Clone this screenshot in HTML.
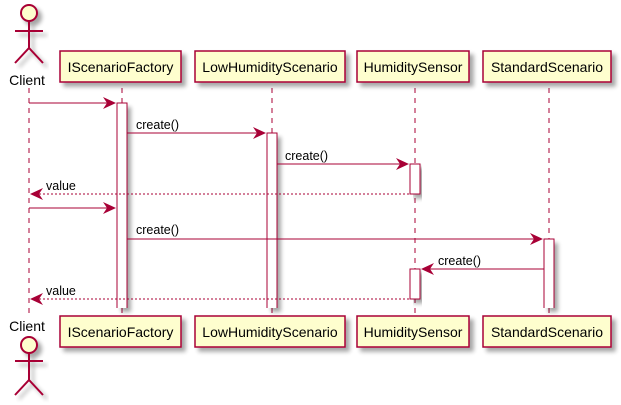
<!DOCTYPE html>
<html><head><meta charset="utf-8"><style>body{margin:0;background:#fff}svg{display:block}text{font-family:"Liberation Sans",sans-serif;fill:#000}</style></head><body>
<svg width="621" height="405" viewBox="0 0 621 405" xmlns="http://www.w3.org/2000/svg">
<defs><filter id="sh" x="-10%" y="-10%" width="130%" height="140%"><feGaussianBlur in="SourceAlpha" stdDeviation="2"/><feOffset dx="4" dy="4"/><feComponentTransfer><feFuncA type="linear" slope="0.35"/></feComponentTransfer><feMerge><feMergeNode/><feMergeNode in="SourceGraphic"/></feMerge></filter></defs>
<g stroke="#A80036" stroke-width="1" stroke-dasharray="5,5">
<line x1="29" y1="88" x2="29" y2="316"/><line x1="122" y1="88" x2="122" y2="316"/><line x1="272" y1="88" x2="272" y2="316"/><line x1="415" y1="88" x2="415" y2="316"/><line x1="549" y1="88" x2="549" y2="316"/>
</g>
<g fill="#fff" stroke="none" filter="url(#sh)">
<rect x="117" y="103" width="10" height="205"/><rect x="267" y="133" width="10" height="175"/><rect x="544" y="239" width="10" height="69"/>
</g>
<g fill="none" stroke="#A80036" stroke-width="1">
<path d="M117 308V103H127V308"/><path d="M267 308V133H277V308"/><path d="M544 308V239H554V308"/>
</g>
<g fill="#fff" stroke="#A80036" stroke-width="1" filter="url(#sh)">
<rect x="410" y="164" width="10" height="30"/><rect x="410" y="269" width="10" height="30"/>
</g>
<g fill="#FEFECE" stroke="#A80036" stroke-width="1.5" filter="url(#sh)">
<rect x="60" y="51" width="121" height="31"/><rect x="195" y="51" width="150" height="31"/><rect x="357" y="51" width="112" height="31"/><rect x="483" y="51" width="128" height="31"/>
<rect x="60" y="316" width="121" height="31"/><rect x="195" y="316" width="150" height="31"/><rect x="357" y="316" width="112" height="31"/><rect x="483" y="316" width="128" height="31"/>
</g>
<g font-size="14" text-anchor="middle">
<text x="120.5" y="72">IScenarioFactory</text><text x="270" y="72">LowHumidityScenario</text><text x="413" y="72">HumiditySensor</text><text x="547" y="72">StandardScenario</text>
<text x="120.5" y="337">IScenarioFactory</text><text x="270" y="337">LowHumidityScenario</text><text x="413" y="337">HumiditySensor</text><text x="547" y="337">StandardScenario</text>
<text x="27" y="85">Client</text><text x="27" y="331">Client</text>
</g>
<g fill="#FEFECE" stroke="#A80036" stroke-width="2" filter="url(#sh)">
<circle cx="29" cy="13" r="8"/><path d="M29 21V48M15 31H43M15 63L29 48L43 63" fill="none"/>
<circle cx="29" cy="345" r="8"/><path d="M29 353V380M15 361H43M15 395L29 380L43 395" fill="none"/>
</g>
<g stroke="#A80036" stroke-width="1" fill="none">
<line x1="29" y1="103" x2="115" y2="103"/><line x1="127" y1="133" x2="265" y2="133"/><line x1="277" y1="164" x2="408" y2="164"/>
<line x1="31" y1="194" x2="410" y2="194" stroke-dasharray="2,2"/><line x1="29" y1="208" x2="115" y2="208"/>
<line x1="127" y1="239" x2="542" y2="239"/><line x1="422" y1="269" x2="544" y2="269"/><line x1="31" y1="299" x2="410" y2="299" stroke-dasharray="2,2"/>
</g>
<g fill="#A80036">
<path d="M116 103l-13-6 4 6-4 6z"/><path d="M266 133l-13-6 4 6-4 6z"/><path d="M409 164l-13-6 4 6-4 6z"/><path d="M116 208l-13-6 4 6-4 6z"/><path d="M543 239l-13-6 4 6-4 6z"/>
<path d="M30 194l13-6-4 6 4 6z"/><path d="M421 269l13-6-4 6 4 6z"/><path d="M30 299l13-6-4 6 4 6z"/>
</g>
<g font-size="12.5">
<text x="136" y="129">create()</text><text x="285" y="160">create()</text><text x="46" y="190">value</text><text x="136" y="234">create()</text><text x="438" y="265">create()</text><text x="46" y="295">value</text>
</g>
</svg>
</body></html>
